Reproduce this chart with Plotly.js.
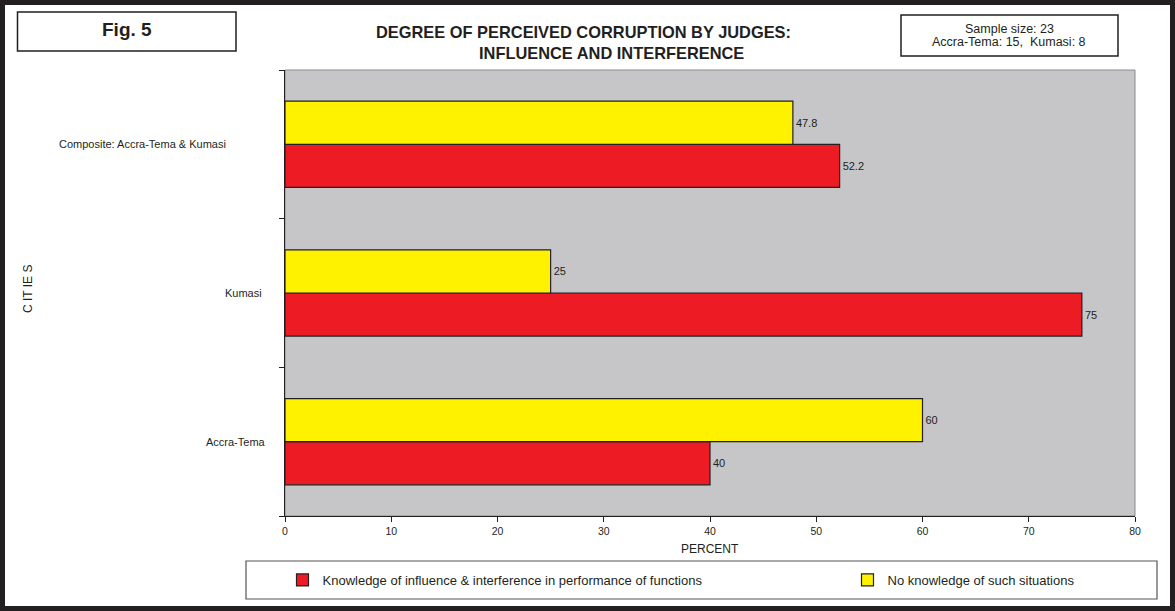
<!DOCTYPE html>
<html>
<head>
<meta charset="utf-8">
<script src="https://cdn.plot.ly/plotly-3.0.1.min.js"></script>
<style>
  html, body { margin: 0; padding: 0; background: #ffffff; }
  #chart { width: 1175px; height: 611px; }
</style>
</head>
<body>
<div id="chart"></div>
<script>
// ---- data ----
const categories = ['Accra-Tema', 'Kumasi', 'Composite: Accra-Tema & Kumasi'];
const knowledgeValues = [40, 75, 52.2];
const noKnowledgeValues = [60, 25, 47.8];
const seriesNames = ['Knowledge of influence & interference in performance of functions', 'No knowledge of such situations'];
const xTickValues = [0, 10, 20, 30, 40, 50, 60, 70, 80];
const titleLines = ['DEGREE OF PERCEIVED CORRUPTION BY JUDGES:', 'INFLUENCE AND INTERFERENCE'];
const figLabel = 'Fig. 5';
const sampleLines = ['Sample size: 23', 'Accra-Tema: 15,  Kumasi: 8'];
const xTitle = 'PERCENT';
const yTitle = 'C IT IE S';

// ---- geometry helpers (pixel -> paper) ----
const W = 1175, H = 611;
const M = { l: 285, r: 40, t: 70, b: 95 };
const PW = W - M.l - M.r, PH = H - M.t - M.b;
const px = x => (x - M.l) / PW;
const py = y => (H - M.b - y) / PH;

const FONT = 'Liberation Sans, Arial, Helvetica, sans-serif';
const INK = '#231f20';

const traces = [
  {
    type: 'bar', orientation: 'h', name: seriesNames[0], legend: 'legend',
    y: categories, x: knowledgeValues,
    marker: { color: '#ed1c24', line: { color: INK, width: 1.2 } },
    text: knowledgeValues.map(String), textposition: 'outside',
    textfont: { family: FONT, size: 11, color: INK }, cliponaxis: false,
    hoverinfo: 'x+name'
  },
  {
    type: 'bar', orientation: 'h', name: seriesNames[1], legend: 'legend2',
    y: categories, x: noKnowledgeValues,
    marker: { color: '#fff200', line: { color: INK, width: 1.2 } },
    text: noKnowledgeValues.map(String), textposition: 'outside',
    textfont: { family: FONT, size: 11, color: INK }, cliponaxis: false,
    hoverinfo: 'x+name'
  }
];

const catLabelRight = [268, 264, 228];
const titleCenters = [[583, 32], [611, 53]];
const sampleY = [29, 42];

const annotations = []
  .concat(titleLines.map((t, i) => ({
    text: t, xref: 'paper', yref: 'paper', x: px(titleCenters[i][0]), y: py(titleCenters[i][1]),
    xanchor: 'center', yanchor: 'middle', showarrow: false,
    font: { family: FONT, size: 16.4, color: INK, weight: 'bold' }
  })))
  .concat([{
    text: figLabel, xref: 'paper', yref: 'paper', x: px(126.5), y: py(29.5),
    xanchor: 'center', yanchor: 'middle', showarrow: false,
    font: { family: FONT, size: 19, color: INK, weight: 'bold' }
  }])
  .concat(sampleLines.map((t, i) => ({
    text: t, xref: 'paper', yref: 'paper', x: px(1009), y: py(sampleY[i]),
    xanchor: 'center', yanchor: 'middle', showarrow: false,
    font: { family: FONT, size: 12.5, color: INK }
  })))
  .concat([
    { text: xTitle, xref: 'paper', yref: 'paper', x: 0.5, y: py(549),
      xanchor: 'center', yanchor: 'middle', showarrow: false,
      font: { family: FONT, size: 12, color: INK } },
    { text: yTitle, xref: 'paper', yref: 'paper', x: px(28), y: py(289),
      xanchor: 'center', yanchor: 'middle', textangle: -90, showarrow: false,
      font: { family: FONT, size: 12, color: INK } }
  ])
  .concat(categories.map((c, i) => ({
    text: c.replace('&', '&amp;'), xref: 'paper', yref: 'y', x: px(catLabelRight[i]), y: c,
    xanchor: 'right', yanchor: 'middle', showarrow: false,
    font: { family: FONT, size: 11, color: INK }
  })));

const shapes = [
  // outer frame
  { type: 'rect', xref: 'paper', yref: 'paper', x0: px(2.5), x1: px(1172.5), y0: py(2.5), y1: py(608.5),
    line: { color: INK, width: 5 }, layer: 'below' },
  // fig box
  { type: 'rect', xref: 'paper', yref: 'paper', x0: px(17.5), x1: px(236), y0: py(12), y1: py(51),
    line: { color: INK, width: 1.5 } },
  // sample box
  { type: 'rect', xref: 'paper', yref: 'paper', x0: px(901), x1: px(1118), y0: py(15), y1: py(56),
    line: { color: INK, width: 1.5 } },
  // legend box
  { type: 'rect', xref: 'paper', yref: 'paper', x0: px(246), x1: px(1157), y0: py(561), y1: py(599),
    line: { color: '#555555', width: 1.2 } },
  // plot area border
  { type: 'rect', xref: 'paper', yref: 'paper', x0: 0, x1: 1, y0: 0, y1: 1,
    line: { color: '#8a8a8a', width: 1 }, layer: 'below' }
];

const legendCommon = {
  orientation: 'h', xanchor: 'left', yanchor: 'middle', y: py(580),
  bgcolor: 'rgba(0,0,0,0)', borderwidth: 0, itemwidth: 30,
  font: { family: FONT, size: 13, color: INK }
};

const layout = {
  width: W, height: H,
  margin: M,
  paper_bgcolor: '#ffffff',
  plot_bgcolor: '#c6c6c8',
  barmode: 'group',
  bargap: 0.42,
  bargroupgap: 0,
  showlegend: true,
  legend: Object.assign({}, legendCommon, { x: px(282.5) }),
  legend2: Object.assign({}, legendCommon, { x: px(847.5) }),
  xaxis: {
    range: [0, 80], tickvals: xTickValues, ticktext: xTickValues.map(String),
    ticks: 'outside', ticklen: 5, tickcolor: INK, tickwidth: 1,
    showline: true, linecolor: INK, linewidth: 1,
    showgrid: false, zeroline: false,
    tickfont: { family: FONT, size: 10.5, color: INK }
  },
  yaxis: {
    type: 'category', categoryorder: 'array', categoryarray: categories,
    tickson: 'boundaries', ticks: 'outside', ticklen: 5, tickcolor: INK,
    showticklabels: false,
    showline: true, linecolor: INK, linewidth: 1,
    showgrid: false, zeroline: false
  },
  annotations: annotations,
  shapes: shapes
};

Plotly.newPlot('chart', traces, layout, { displayModeBar: false, staticPlot: true });
</script>
</body>
</html>
